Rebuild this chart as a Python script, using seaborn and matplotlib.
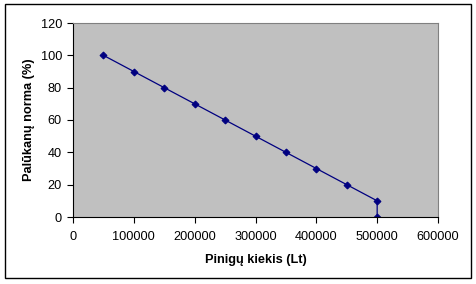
import matplotlib
matplotlib.use("Agg")
import matplotlib.pyplot as plt
import seaborn as sns
import pandas as pd
from matplotlib.patches import Rectangle

money = [50000, 100000, 150000, 200000, 250000, 300000, 350000, 400000, 450000, 500000, 500000]
rate = [100, 90, 80, 70, 60, 50, 40, 30, 20, 10, 0]
x_ticks = [0, 100000, 200000, 300000, 400000, 500000, 600000]
y_ticks = [0, 20, 40, 60, 80, 100, 120]

df = pd.DataFrame({"money": money, "rate": rate})

sns.set_style("white")
plt.rcParams['font.family'] = ['Liberation Sans', 'DejaVu Sans']

fig = plt.figure(figsize=(4.76, 2.84), dpi=100)
ax = fig.add_axes([73/476, 1 - 217/284, (438-73)/476, (217-23)/284])

sns.lineplot(data=df, x="money", y="rate", ax=ax, sort=False, estimator=None,
             color="#000080", linewidth=0.9, marker="D", markersize=3.5,
             markeredgecolor="#000080", markerfacecolor="#000080")

ax.set_facecolor("#c0c0c0")
ax.set_xlim(0, 600000)
ax.set_ylim(0, 120)
ax.set_xticks(x_ticks)
ax.set_yticks(y_ticks)
ax.set_xticklabels([str(v) for v in x_ticks])
ax.set_yticklabels([str(v) for v in y_ticks])
ax.tick_params(axis="both", direction="out", length=4, width=0.8, color="black",
               labelsize=9.2, labelcolor="black", pad=4, bottom=True, left=True)
ax.tick_params(axis="x", pad=6)
for s in ["left", "bottom"]:
    ax.spines[s].set_color("black")
    ax.spines[s].set_linewidth(0.8)
for s in ["top", "right"]:
    ax.spines[s].set_color("#808080")
    ax.spines[s].set_linewidth(0.8)
ax.set_xlabel("Pinigų kiekis (Lt)", fontsize=9.2, fontweight="bold", color="black", labelpad=8)
ax.set_ylabel("Palūkanų norma (%)", fontsize=9.2, fontweight="bold", color="black", labelpad=4)
ax.grid(False)

fig.patches.append(Rectangle((5/476, 1 - 278/284), (471-5)/476, (278-4)/284,
                             transform=fig.transFigure, fill=False,
                             edgecolor="black", linewidth=1.0))

fig.savefig("out.png", dpi=100)
